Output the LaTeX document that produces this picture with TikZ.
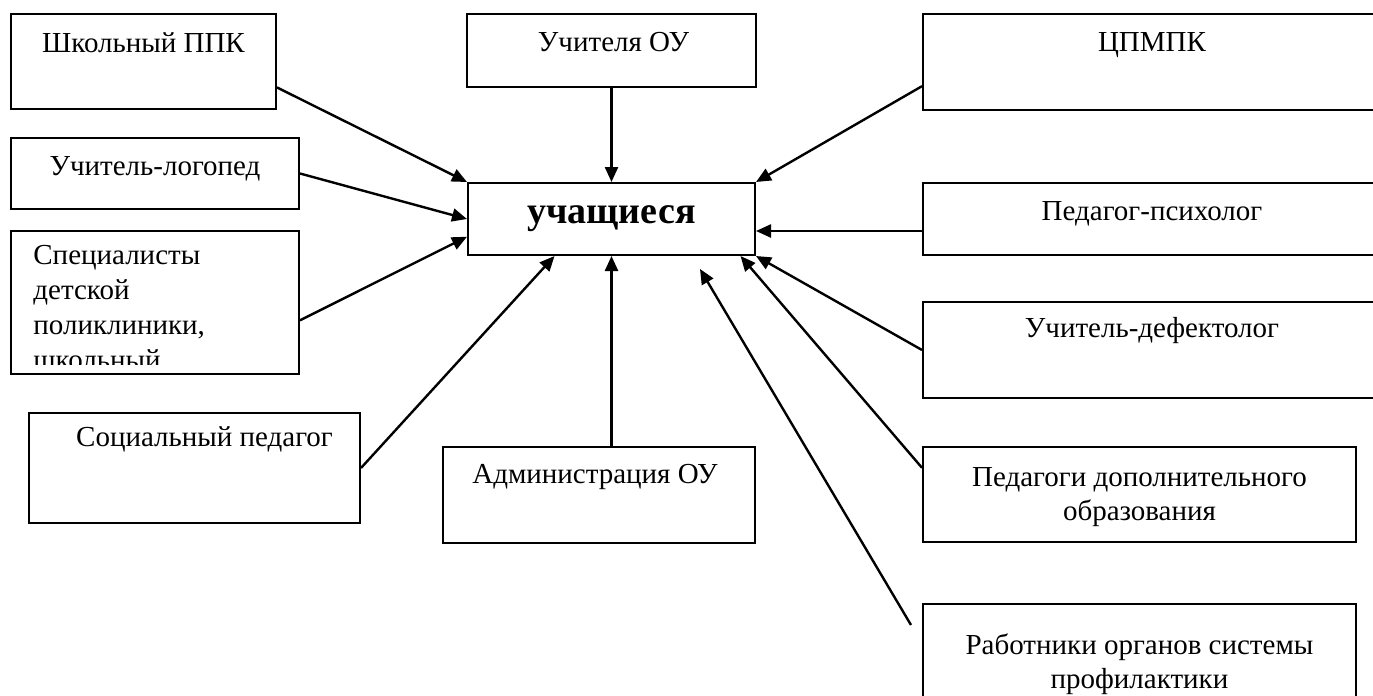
\documentclass[tikz,border=0pt]{standalone}
\usepackage{fontspec}
\setmainfont{Liberation Serif}
\usetikzlibrary{arrows.meta}

\begin{document}
\begin{tikzpicture}
	[x=0.5pt, y=-0.5pt,
	box/.style={draw, line width=1pt, anchor=north west, inner sep=0pt},
	txt/.style={anchor=base, inner sep=0pt, align=center, font=\fontsize{14.5}{17}\selectfont},
	arr/.style={-{Triangle[length=7.5pt,width=6.5pt]}, line width=1.2pt}]
	\clip (0,0) rectangle (1373,696);
	% boxes
	\node (ppk) [box, minimum width=132.5pt, minimum height=47.5pt] at (10,13) {};
	\node (logo) [box, minimum width=144pt, minimum height=35.5pt] at (10,137) {};
	\node (spec) [box, minimum width=144pt, minimum height=71.5pt] at (10,230) {};
	\node (soc) [box, minimum width=165.5pt, minimum height=55pt] at (28,412) {};
	\node (uch) [box, minimum width=144.5pt, minimum height=36.5pt] at (466,13) {};
	\node (stud) [box, minimum width=143.5pt, minimum height=36pt] at (467,182) {};
	\node (adm) [box, minimum width=156pt, minimum height=48pt] at (442,446) {};
	\node (cpmpk) [box, minimum width=229pt, minimum height=48pt] at (922,13) {};
	\node (psy) [box, minimum width=229pt, minimum height=36pt] at (922,182) {};
	\node (def) [box, minimum width=229pt, minimum height=48pt] at (922,301) {};
	\node (dop) [box, minimum width=216.5pt, minimum height=47.5pt] at (922,446) {};
	\node (rab) [box, minimum width=216.5pt, minimum height=53.5pt] at (922,603) {};
	% texts
	\node (ppk-t) [txt] at ([yshift=-20pt]ppk.north) {Школьный ППК};
	\node (logo-t) [txt] at ([yshift=-19pt]logo.north) {Учитель-логопед};
	\begin{scope}
		\clip ([yshift=5.5pt]spec.south west) rectangle (spec.north east);
		\node (spec-t) [txt, anchor=north west, align=left, font=\fontsize{14.5}{17.5}\selectfont]
			at ([xshift=11.5pt,yshift=-7.5pt]spec.north west)
			{Специалисты\\детской\\поликлиники,\\школьный};
	\end{scope}
	\node (soc-t) [txt] at ([xshift=5pt,yshift=-17pt]soc.north) {Социальный педагог};
	\node (uch-t) [txt] at ([xshift=1pt,yshift=-19pt]uch.north) {Учителя ОУ};
	\node (stud-t) [txt, anchor=center, font=\fontsize{19}{22}\selectfont\bfseries] at (stud.center) {учащиеся};
	\node (adm-t) [txt] at ([xshift=-2pt,yshift=-18.5pt]adm.north) {Администрация ОУ};
	\node (cpmpk-t) [txt] at ([yshift=-19.5pt]cpmpk.north) {ЦПМПК};
	\node (psy-t) [txt] at ([yshift=-19pt]psy.north) {Педагог-психолог};
	\node (def-t) [txt] at ([yshift=-18pt]def.north) {Учитель-дефектолог};
	\node (dop-t) [txt, anchor=north] at ([yshift=-10.5pt]dop.north) {Педагоги дополнительного\\образования};
	\node (rab-t) [txt, anchor=north] at ([yshift=-15pt]rab.north) {Работники органов системы\\профилактики};
	% arrows to the pupils
	\draw [arr] (ppk.-11) -- (stud.north west);
	\draw [arr] (logo.east) -- (stud.west);
	\draw [arr] (spec.-7) -- (stud.187);
	\draw [arr] (soc.east) -- (stud.213.4);
	\draw [arr] (uch.south) -- (stud.north);
	\draw [arr] (stud.south |- adm.north) -- (stud.south);
	\draw [arr] (cpmpk.186) -- (stud.north east);
	\draw [arr] ([yshift=-6pt]psy.west) -- ([yshift=-6pt]stud.east);
	\draw [arr] (def.west) -- (stud.south east);
	\draw [arr] (dop.173.5) -- (stud.-16.5);
	\draw [arr] ([xshift=-5.5pt,yshift=-11pt]rab.north west) -- ([xshift=44.25pt,yshift=-6.5pt]stud.south);
\end{tikzpicture}
\end{document}
